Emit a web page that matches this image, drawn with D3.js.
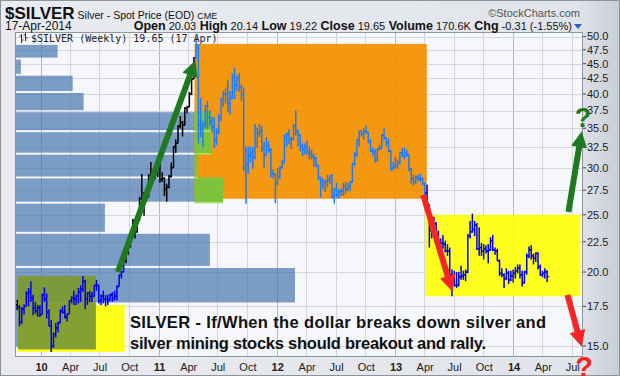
<!DOCTYPE html>
<html>
<head>
<meta charset="utf-8">
<script src="https://cdn.jsdelivr.net/npm/d3@7/dist/d3.min.js"></script>
<style>
html,body{margin:0;padding:0;background:#fff;}
svg{display:block;font-family:"Liberation Sans",Arial,sans-serif;}
</style>
</head>
<body>
<svg id="chart" width="620" height="376"></svg>
<script>
// ================= DATA =================
const firstWeek = "2009-10-19";           // Monday of first weekly bar
// weekly bars: [open, high, low, close]
const bars2009 = [
[17.6,17.95,17.25,17.45],[17.45,17.6,16.2,16.45],[16.45,17.45,16.35,17.3],[17.3,17.65,16.95,17.5],
[17.5,18.55,17.5,18.4],[18.4,18.8,17.5,18.5],[18.5,19.3,17.8,18.1],[18.1,18.3,16.9,17.4],
[17.4,17.8,17.0,17.2],[17.2,17.6,16.8,17.4],[17.4,17.6,16.8,16.95]];
const bars2010 = [
[16.95,18.4,16.95,18.3],[18.3,18.85,17.8,18.0],[18.0,18.4,16.7,17.1],[17.1,17.3,16.2,16.2],
[16.2,16.6,14.65,15.0],[15.0,15.8,14.9,15.7],[15.7,16.4,15.5,16.1],[16.1,16.5,15.8,16.4],
[16.4,17.3,16.4,17.2],[17.2,17.5,17.0,17.1],[17.1,17.6,16.7,16.8],[16.8,17.0,16.5,17.0],
[17.0,17.9,17.0,17.9],[17.9,18.2,17.7,18.1],[18.1,18.6,17.6,18.0],[18.0,18.3,17.6,18.2],
[18.2,18.8,17.7,18.5],[18.5,19.0,17.8,18.7],[18.7,19.7,18.5,19.3],[19.3,19.4,17.3,18.0],
[18.0,18.5,17.6,18.4],[18.4,18.6,17.8,18.2],[18.2,18.5,17.8,18.2],[18.2,19.0,18.2,19.0],
[19.0,19.4,18.6,19.0],[19.0,19.0,17.7,17.9],[17.9,18.3,17.6,18.2],[18.2,18.6,17.7,18.0],
[18.0,18.3,17.5,18.0],[18.0,18.3,17.6,17.9],[17.9,18.4,17.9,18.3],[18.3,18.5,17.8,18.1],
[18.1,18.6,17.9,18.2],[18.2,19.0,17.9,18.9],[18.9,19.8,18.9,19.8],[19.8,20.1,19.5,20.0],
[20.0,21.0,20.0,20.9],[20.9,21.6,20.7,21.6],[21.6,22.3,21.4,22.2],[22.2,23.2,22.0,23.1],
[23.1,24.6,22.9,24.4],[24.4,24.5,22.8,23.4],[23.4,24.8,23.3,24.7],[24.7,26.8,24.4,26.6],
[26.6,29.3,26.0,26.5],[26.5,27.3,24.9,26.8],[26.8,27.5,26.3,26.9],[26.9,29.3,26.7,29.1],
[29.1,30.7,28.0,28.6],[28.6,29.6,28.3,28.9],[28.9,29.6,28.7,29.4],[29.4,30.9,28.9,30.6]];
const bars2011 = [
[30.6,30.8,28.3,28.7],[28.7,29.5,28.4,28.8],[28.8,28.9,26.9,27.6],[27.6,28.2,26.3,27.8],
[27.8,29.2,27.7,29.0],[29.0,30.6,28.9,30.0],[30.0,32.6,30.0,32.6],[32.6,33.5,31.8,33.0],
[33.0,35.4,33.0,35.3],[35.3,36.7,35.0,35.8],[35.8,36.0,33.9,35.4],[35.4,38.0,35.4,37.8],
[37.8,38.2,37.1,38.0],[38.0,40.3,38.0,40.0],[40.0,42.6,39.8,42.4],[42.4,46.2,42.4,46.0],
[46.0,49.8,45.8,47.9],[47.9,48.6,33.0,35.4],[35.4,39.4,33.8,35.0],[35.0,36.0,32.5,35.4],
[35.4,38.3,35.0,38.2],[38.2,38.9,34.9,36.5],[36.5,37.5,35.3,35.9],[35.9,36.6,34.5,35.2],
[35.2,36.5,32.4,33.4],[33.4,35.0,32.8,34.5],[34.5,37.0,34.2,36.4],[36.4,39.5,36.0,39.1],
[39.1,40.5,38.0,40.0],[40.0,41.0,38.5,39.9],[39.9,42.2,37.2,38.5],[38.5,40.5,36.9,39.4],
[39.4,43.3,39.2,42.7],[42.7,44.3,39.2,41.4],[41.4,43.0,40.5,42.5],[42.5,43.4,40.3,41.0],
[41.0,41.6,38.9,39.9],[39.9,41.0,29.6,30.0],[30.0,32.6,26.1,30.4],[30.4,32.6,29.3,31.4],
[31.4,32.6,30.6,31.8],[31.8,32.5,29.9,31.3],[31.3,35.6,31.0,35.0],[35.0,35.0,32.4,34.3],
[34.3,35.6,33.8,34.6],[34.6,35.3,31.9,32.4],[32.4,33.2,30.0,31.5],[31.5,33.8,31.5,32.7],
[32.7,33.3,31.8,32.2],[32.2,32.4,28.9,29.4],[29.4,29.8,28.8,29.3],[29.3,29.4,26.15,28.2]];
const bars2012 = [
[28.2,30.0,28.1,29.0],[29.0,30.2,28.7,30.1],[30.1,31.0,29.9,30.6],[30.6,34.2,30.6,33.7],
[33.7,34.4,32.6,34.2],[34.2,34.9,32.9,33.5],[33.5,33.9,32.3,33.6],[33.6,35.6,33.4,35.3],
[35.3,37.5,34.0,34.5],[34.5,34.9,32.6,34.1],[34.1,34.2,32.0,32.6],[32.6,33.0,31.4,32.3],
[32.3,33.0,31.6,32.5],[32.5,33.4,31.6,31.9],[31.9,32.6,31.0,31.7],[31.7,32.2,31.0,31.4],
[31.4,31.7,30.1,31.2],[31.2,31.3,30.0,30.3],[30.3,30.3,28.6,28.9],[28.9,29.0,26.7,28.5],
[28.5,28.8,27.6,28.3],[28.3,28.6,27.3,28.5],[28.5,29.2,27.8,28.6],[28.6,29.1,28.2,29.1],
[29.1,29.3,26.6,26.9],[26.9,27.7,26.1,27.6],[27.6,28.3,26.7,27.0],[27.0,27.6,26.6,27.3],
[27.3,27.7,26.9,27.4],[27.4,28.3,26.9,27.9],[27.9,28.4,27.1,27.6],[27.6,28.3,27.4,27.9],
[27.9,28.5,27.4,28.4],[28.4,30.6,28.3,30.5],[30.5,31.9,30.2,31.6],[31.6,33.5,31.3,33.5],
[33.5,34.7,32.6,34.6],[34.6,34.7,33.9,34.2],[34.2,35.0,33.5,34.6],[34.6,35.4,34.2,34.5],
[34.5,34.5,33.0,33.2],[33.2,33.6,31.9,32.0],[32.0,32.5,31.4,31.9],[31.9,32.3,30.6,31.0],
[31.0,32.4,30.7,32.3],[32.3,32.8,32.1,32.4],[32.4,34.2,32.3,34.1],[34.1,35.0,33.4,33.7],
[33.7,33.8,32.6,33.1],[33.1,33.6,31.9,32.0],[32.0,32.2,29.6,30.0],[30.0,30.7,29.7,30.1]];
const bars2013 = [
[30.1,31.3,29.9,30.3],[30.3,31.0,29.9,30.6],[30.6,31.9,30.4,31.8],[31.8,32.4,31.3,31.4],
[31.4,32.5,31.0,31.8],[31.8,32.2,31.3,31.6],[31.6,31.6,29.6,29.9],[29.9,30.0,28.2,28.7],
[28.7,29.2,28.0,28.4],[28.4,29.1,28.2,28.9],[28.9,29.2,28.5,28.8],[28.8,29.3,28.4,28.7],
[28.7,28.9,28.0,28.3],[28.3,28.3,26.7,27.2],[27.2,28.1,25.9,26.0],[26.0,26.0,22.0,23.5],
[23.5,24.5,22.8,24.2],[24.2,24.8,23.0,24.1],[24.1,24.3,22.7,23.0],[23.0,23.5,21.5,22.0],
[22.0,22.8,21.7,22.4],[22.4,23.1,21.9,22.3],[22.3,22.6,21.6,21.7],[21.7,22.3,21.3,21.7],
[21.7,22.0,19.0,19.8],[19.8,20.2,18.2,19.6],[19.6,20.1,18.9,19.0],[19.0,20.0,18.8,19.0],
[19.0,20.0,18.9,19.6],[19.6,20.5,19.4,19.7],[19.7,20.1,19.4,19.8],[19.8,20.2,19.3,20.0],
[20.0,23.2,19.9,23.0],[23.0,24.4,22.8,23.4],[23.4,25.1,23.3,23.6],[23.6,24.4,23.0,24.0],
[24.0,24.2,21.8,21.9],[21.9,23.8,21.3,22.0],[22.0,22.4,21.3,21.7],[21.7,22.3,21.0,21.9],
[21.9,22.2,21.5,21.7],[21.7,22.3,20.7,21.8],[21.8,22.9,21.7,22.6],[22.6,23.1,21.7,21.8],
[21.8,22.0,21.4,21.7],[21.7,21.9,20.9,20.9],[20.9,21.0,19.7,19.9],[19.9,20.3,19.6,19.8],
[19.8,19.9,18.8,19.5],[19.5,20.3,19.4,19.9],[19.9,20.1,19.1,19.4],[19.4,20.1,19.3,19.7],
[19.7,20.2,19.2,19.9]];
const bars2014 = [
[19.9,20.4,19.5,20.1],[20.1,20.6,19.9,20.3],[20.3,20.6,19.5,19.8],[19.8,20.1,18.9,19.2],
[19.2,20.1,19.1,20.0],[20.0,21.5,19.8,21.3],[21.3,22.1,21.1,21.8],[21.8,22.2,21.0,21.3],
[21.3,21.5,20.6,21.1],[21.1,21.6,20.8,21.5],[21.5,21.6,20.2,20.4],[20.4,20.6,19.7,19.8],
[19.8,20.1,19.6,19.9],[19.9,20.3,19.5,20.0],[20.03,20.14,19.22,19.65]];

// volume-by-price zones (price edges, low to high) and relative volume per zone
const vbpEdges  = [14.9,17.7,20.4,23.3,26.2,28.9,31.7,34.6,37.4,40.3,43.1,45.9,48.6];
const vbpVolume = [29,100,69.6,32.1,74.3,65.4,70,70,24.5,20.6,2.1,15.2];

// axis tick labels
const yTickValues = [15,17.5,20,22.5,25,27.5,30,32.5,35,37.5,40,42.5,45,47.5,50];
const yearLabels  = ["10","11","12","13","14"];
const monthLabels = ["Apr","Jul","Oct"];

// header info
const titleSym = "$SILVER";
const titleName = "Silver - Spot Price (EOD)";
const exchange = "CME";
const lastDate = "17-Apr-2014";
const quote = [["Open","20.03"],["High","20.14"],["Low","19.22"],["Close","19.65"],["Volume","170.6K"],["Chg","-0.31 (-1.55%)"]];
const legendText = "$SILVER (Weekly) 19.65 (17 Apr)";
const noteLines = ["SILVER - If/When the dollar breaks down silver and","silver mining stocks should breakout and rally."];

// annotation shapes in data units (date, price)
const boxes = [
  {name:"yellowA", from:"2009-10-23", to:"2010-09-18", lo:14.66, hi:17.6},
  {name:"olive",   from:"2009-10-23", to:"2010-06-21", lo:14.8,  hi:19.7},
  {name:"orange",  from:"2011-04-22", to:"2013-04-09", lo:26.6,  hi:48.6},
  {name:"yellowB", from:"2013-04-04", to:"2014-07-28", lo:18.2,  hi:25.0}
];
const arrows = [
  {name:"up1",   from:["2010-08-28",20.0],  to:["2011-04-25",45.6]},
  {name:"down1", from:["2013-03-29",27.0],  to:["2013-06-27",18.55]},
  {name:"up2",   from:["2014-06-21",25.27], to:["2014-08-01",34.6]},
  {name:"down2", from:["2014-06-18",18.29], to:["2014-08-01",14.96]}
];

// ================= DRAW =================
const W = 620, H = 376;
const P = {l:15, r:583, t:32, b:357};
const parse = d3.timeParse("%Y-%m-%d");
const svg = d3.select("#chart");

const x = d3.scaleTime().domain([new Date(2009,9,14), new Date(2014,7,5)]).range([P.l, P.r]);
const y = d3.scaleLog().domain([14.37, 50.9]).range([P.b, P.t]);

// background
const defs = svg.append("defs");
const g1 = defs.append("linearGradient").attr("id","bg").attr("x1",0).attr("x2",1).attr("y1",0).attr("y2",0);
g1.append("stop").attr("offset","0").attr("stop-color","#e9ebf0");
g1.append("stop").attr("offset","0.93").attr("stop-color","#e1e4ea");
g1.append("stop").attr("offset","1").attr("stop-color","#c9cdd5");
svg.append("rect").attr("width",W).attr("height",H).attr("fill","url(#bg)");
svg.append("rect").attr("x",0.5).attr("y",0.5).attr("width",W-1).attr("height",H-1)
  .attr("fill","none").attr("stroke","#8d929b");

const clip = defs.append("clipPath").attr("id","plotclip");
clip.append("rect").attr("x",P.l).attr("y",P.t).attr("width",P.r-P.l).attr("height",P.b-P.t);

svg.append("rect").attr("x",P.l).attr("y",P.t).attr("width",P.r-P.l).attr("height",P.b-P.t).attr("fill","#f6f7fb");

const plot = svg.append("g").attr("clip-path","url(#plotclip)");

// gridlines
const quarters = d3.timeMonth.every(3).range(new Date(2010,0,1), new Date(2014,7,2));
plot.selectAll("line.vg").data(quarters).join("line")
  .attr("x1",d=>Math.round(x(d))+0.5).attr("x2",d=>Math.round(x(d))+0.5)
  .attr("y1",P.t).attr("y2",P.b)
  .attr("stroke",d=>d.getMonth()===0?"#b4b8c2":"#d2d5dd").attr("stroke-width",1);
plot.selectAll("line.hg").data(yTickValues).join("line")
  .attr("x1",P.l).attr("x2",P.r)
  .attr("y1",d=>Math.round(y(d))+0.5).attr("y2",d=>Math.round(y(d))+0.5)
  .attr("stroke","#d2d5dd");

// volume by price
const vScale = d3.scaleLinear().domain([0,100]).range([0,280]);
const zones = vbpVolume.map((v,i)=>({lo:vbpEdges[i], hi:vbpEdges[i+1], v}));
plot.selectAll("rect.vbp").data(zones).join("rect")
  .attr("x",P.l).attr("y",d=>y(d.hi)+1)
  .attr("width",d=>vScale(d.v)).attr("height",d=>y(d.lo)-y(d.hi)-2)
  .attr("fill","#4a78b0").attr("fill-opacity",0.72);

const boxByName = Object.fromEntries(boxes.map(b=>[b.name,b]));
const boxFill = {yellowA:["#ffff00",0.9], olive:["#7d9a34",0.95], orange:["#f39000",0.93], yellowB:["#ffff00",0.88]};
function drawBox(b){
  const [f,o] = boxFill[b.name];
  plot.append("rect")
    .attr("x",x(parse(b.from))).attr("y",y(b.hi))
    .attr("width",x(parse(b.to))-x(parse(b.from))).attr("height",y(b.lo)-y(b.hi))
    .attr("fill",f).attr("fill-opacity",o);
}
drawBox(boxByName.yellowA);
drawBox(boxByName.olive);
drawBox(boxByName.orange);

// VBP bars reaching into the orange box are tinted green
const ob = boxByName.orange, obx = x(parse(ob.from));
zones.filter(z=>P.l+vScale(z.v)>obx && z.hi>ob.lo && z.lo<ob.hi).forEach(z=>{
  plot.append("rect").attr("x",obx).attr("y",y(z.hi)).attr("width",P.l+vScale(z.v)-obx)
    .attr("height",y(z.lo)-y(z.hi)).attr("fill","#7dc43c");
  plot.append("line").attr("x1",obx).attr("x2",P.l+vScale(z.v))
    .attr("y1",y(z.lo)).attr("y2",y(z.lo)).attr("stroke","#aee07e").attr("stroke-width",1.5);
});
drawBox(boxByName.yellowB);

// price bars
const all = [].concat(bars2009,bars2010,bars2011,bars2012,bars2013,bars2014);
const w0 = parse(firstWeek);
const data = all.map((r,i)=>({date:d3.timeDay.offset(d3.timeWeek.offset(w0,i),2), o:r[0],h:r[1],l:r[2],c:r[3]}));
function barColor(d){
  for (const b of [boxByName.orange]) if (d.date>=parse(b.from) && d.date<=parse(b.to)) return "#1c7cff";
  for (const b of [boxByName.yellowA, boxByName.yellowB]) if (d.date>=parse(b.from) && d.date<=parse(b.to)) return "#0000ee";
  return "#000";
}
const bg = plot.append("g");
data.forEach(d=>{
  const cx = x(d.date), col = barColor(d);
  bg.append("line").attr("x1",cx).attr("x2",cx).attr("y1",y(d.h)).attr("y2",y(d.l)).attr("stroke",col).attr("stroke-width",1.5);
  bg.append("line").attr("x1",cx-2).attr("x2",cx).attr("y1",y(d.o)).attr("y2",y(d.o)).attr("stroke",col).attr("stroke-width",1.3);
  bg.append("line").attr("x1",cx).attr("x2",cx+2).attr("y1",y(d.c)).attr("y2",y(d.c)).attr("stroke",col).attr("stroke-width",1.3);
});

// plot border
svg.append("rect").attr("x",P.l+0.5).attr("y",P.t+0.5).attr("width",P.r-P.l-1).attr("height",P.b-P.t-1)
  .attr("fill","none").attr("stroke","#8f949e");

// right axis
const ya = svg.append("g");
yTickValues.forEach(v=>{
  ya.append("line").attr("x1",P.r).attr("x2",P.r+3).attr("y1",y(v)).attr("y2",y(v)).attr("stroke","#444");
  ya.append("text").attr("x",P.r+4).attr("y",y(v)).attr("dy","0.35em")
    .attr("font-size",11).attr("fill","#222").text(d3.format(".1f")(v));
});

// bottom axis
const xa = svg.append("g");
quarters.forEach(q=>{
  const m = q.getMonth();
  const lab = m===0 ? yearLabels[q.getFullYear()-2010] : monthLabels[m/3-1];
  xa.append("text").attr("x",x(q)+1).attr("y",371).attr("text-anchor","middle")
    .attr("font-size",11).attr("font-weight",m===0?"bold":"normal").attr("fill","#222").text(lab);
});

// legend
const lg = svg.append("g");
lg.append("path").attr("d","M21.5,34v9M19.5,36h2M21.5,40h2M25.5,33v8M23.5,35h2M25.5,38h2")
  .attr("stroke","#333").attr("stroke-width",1).attr("fill","none");
lg.append("text").attr("x",31).attr("y",42).attr("font-family","'DejaVu Sans Mono',monospace")
  .attr("font-size",10).attr("fill","#222").text(legendText);

// annotation note
const noteWidths = [416, 356];
noteLines.forEach((t,i)=>{
  svg.append("text").attr("x",130).attr("y",328+i*21).attr("font-size",16.5).attr("font-weight","bold")
    .attr("textLength",noteWidths[i]).attr("lengthAdjust","spacing")
    .attr("fill","#111").text(t);
});

// arrows
const arrowColor = {up1:"#1f7a1f", up2:"#1f7a1f", down1:"#f42525", down2:"#f42525"};
arrows.forEach(a=>{
  const x0=x(parse(a.from[0])), y0=y(a.from[1]), x1=x(parse(a.to[0])), y1=y(a.to[1]);
  const dx=x1-x0, dy=y1-y0, L=Math.hypot(dx,dy), ux=dx/L, uy=dy/L, px=-uy, py=ux;
  const hl=16, hw=8, sw=3;
  const bx=x1-ux*hl, by=y1-uy*hl;
  const pts=[[x0+px*sw,y0+py*sw],[bx+px*sw,by+py*sw],[bx+px*hw,by+py*hw],[x1,y1],
             [bx-px*hw,by-py*hw],[bx-px*sw,by-py*sw],[x0-px*sw,y0-py*sw]];
  svg.append("path").attr("d","M"+pts.map(p=>p.join(",")).join("L")+"Z").attr("fill",arrowColor[a.name]);
});
svg.append("text").attr("x",583).attr("y",127).attr("text-anchor","middle").attr("font-size",27)
  .attr("font-weight","bold").attr("fill","#1f7a1f").text("?");
svg.append("text").attr("x",584).attr("y",377).attr("text-anchor","middle").attr("font-size",29)
  .attr("font-weight","bold").attr("fill","#f42525").text("?");

// header
const t1 = svg.append("text").attr("x",5).attr("y",19).attr("font-size",17).attr("font-weight","bold").attr("fill","#111").text(titleSym);
const t1w = t1.node().getComputedTextLength();
const t2 = svg.append("text").attr("x",5+t1w+3).attr("y",19).attr("font-size",10.5).attr("fill","#111").text(titleName);
const t2w = t2.node().getComputedTextLength();
svg.append("text").attr("x",5+t1w+3+t2w+3).attr("y",19).attr("font-size",9).attr("fill","#111").text(exchange);
svg.append("text").attr("x",580).attr("y",17).attr("text-anchor","end").attr("font-size",11).attr("fill","#555").text("\u00a9StockCharts.com");
svg.append("text").attr("x",5).attr("y",30).attr("font-size",12).attr("fill","#111").text(lastDate);
const qt = svg.append("text").attr("x",572).attr("y",30).attr("text-anchor","end").attr("fill","#111");
quote.forEach(([k,v],i)=>{
  qt.append("tspan").attr("font-size",12.5).attr("font-weight","bold").text((i?" ":"")+k);
  qt.append("tspan").attr("font-size",11).text(" "+v);
});
svg.append("path").attr("d","M574,24h8l-4,5Z").attr("fill","#2c5fbf");
</script>
</body>
</html>
